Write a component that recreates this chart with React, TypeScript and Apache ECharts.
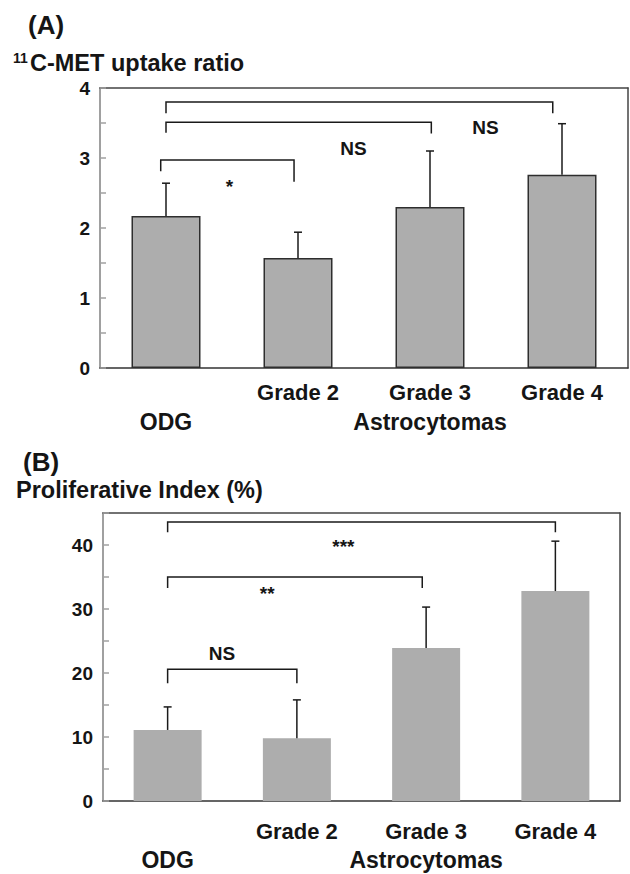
import React, { useEffect, useRef } from "react";
import * as echarts from "echarts";

const categories = ["ODG", "Grade 2", "Grade 3", "Grade 4"];
const groupLabels = ["ODG", "", "Astrocytomas", ""];

// Panel A: 11C-MET uptake ratio
const metMeans = [2.17, 1.57, 2.3, 2.76];
const metErr = [0.47, 0.37, 0.8, 0.73];
// brackets: [fromIdx, toIdx, yTop, leftLegBottom, rightLegBottom, fromOffset, toOffset]
const metBrackets = [
  [0, 3, 3.8, 3.64, 3.64, 0, -0.07],
  [0, 2, 3.51, 3.36, 3.35, 0, 0.01],
  [0, 1, 2.97, 2.81, 2.66, -0.04, -0.03],
];
const metSigTexts = ["NS", "NS", "*"];
const metSigPos = [
  [2.42, 3.43],
  [1.42, 3.13],
  [0.48, 2.6],
];

// Panel B: Proliferative index
const piMeans = [11.1, 9.8, 23.9, 32.8];
const piErr = [3.6, 6.0, 6.4, 7.8];
const piBrackets = [
  [0, 3, 43.6, 42.0, 42.0, 0, 0],
  [0, 2, 35.0, 33.3, 33.3, 0, -0.03],
  [0, 1, 20.6, 18.4, 18.4, 0, 0],
];
const piSigTexts = ["***", "**", "NS"];
const piSigPos = [
  [1.36, 39.7],
  [0.77, 32.4],
  [0.42, 23.1],
];

const FONT = "'Liberation Sans', Arial, Helvetica, sans-serif";
const INK = "#151515";

function errorSeries(means: number[], errs: number[], xi: number, yi: number) {
  return {
    type: "custom",
    xAxisIndex: xi,
    yAxisIndex: yi,
    z: 5,
    data: means.map((m, i) => [i, m, errs[i]]),
    renderItem: (params: any, api: any) => {
      const i = api.value(0);
      const m = api.value(1);
      const e = api.value(2);
      const b = api.coord([i, m]);
      const t = api.coord([i, m + e]);
      const st = { stroke: "#1a1a1a", lineWidth: 1.5 };
      return {
        type: "group",
        children: [
          { type: "line", shape: { x1: b[0], y1: b[1], x2: t[0], y2: t[1] }, style: st },
          { type: "line", shape: { x1: t[0] - 4, y1: t[1], x2: t[0] + 4, y2: t[1] }, style: st },
        ],
      };
    },
  };
}

function bracketSeries(brackets: number[][], xi: number, yi: number) {
  return {
    type: "custom",
    xAxisIndex: xi,
    yAxisIndex: yi,
    z: 5,
    data: brackets.map((b) => b),
    renderItem: (params: any, api: any) => {
      const from = api.value(0);
      const to = api.value(1);
      const y = api.value(2);
      const l = api.value(3);
      const r = api.value(4);
      const fo = api.value(5);
      const to2 = api.value(6);
      const bw = api.size([1, 0])[0];
      const x1 = api.coord([from, y])[0] + fo * bw;
      const x2 = api.coord([to, y])[0] + to2 * bw;
      const yt = api.coord([from, y])[1];
      const yl = api.coord([from, l])[1];
      const yr = api.coord([to, r])[1];
      return {
        type: "polyline",
        shape: { points: [[x1, yl], [x1, yt], [x2, yt], [x2, yr]] },
        style: { stroke: "#1a1a1a", lineWidth: 1.5, fill: null },
      };
    },
  };
}

function sigSeries(pos: number[][], texts: string[], xi: number, yi: number) {
  return {
    type: "custom",
    xAxisIndex: xi,
    yAxisIndex: yi,
    z: 6,
    data: pos.map((p) => [p[0], p[1]]),
    renderItem: (params: any, api: any) => {
      const fx = api.value(0);
      const y = api.value(1);
      const bw = api.size([1, 0])[0];
      const base = api.coord([0, y]);
      const txt = texts[params.dataIndex];
      const isStar = txt.indexOf("*") >= 0;
      return {
        type: "text",
        x: base[0] + fx * bw,
        y: base[1],
        style: {
          text: txt,
          align: "center",
          verticalAlign: "middle",
          fontFamily: FONT,
          fontWeight: "bold",
          fontSize: isStar ? 19 : 19,
          fill: INK,
        },
      };
    },
  };
}

function panelAxes(grid: number, labelMargin: number, groupOffset: number) {
  return [
    {
      gridIndex: grid,
      type: "category",
      data: categories,
      position: "bottom",
      axisLine: { show: true, lineStyle: { color: "#333", width: 1.5 } },
      axisTick: { show: false },
      axisLabel: {
        interval: 0,
        margin: labelMargin,
        fontSize: 22,
        fontWeight: "bold",
        fontFamily: FONT,
        color: INK,
        formatter: (v: string, i: number) => (i === 0 ? "" : v),
      },
    },
    {
      gridIndex: grid,
      type: "category",
      data: groupLabels,
      position: "bottom",
      offset: groupOffset,
      axisLine: { show: false },
      axisTick: { show: false },
      axisLabel: {
        interval: 0,
        margin: labelMargin,
        fontSize: 23,
        fontWeight: "bold",
        fontFamily: FONT,
        color: INK,
      },
    },
    {
      gridIndex: grid,
      type: "category",
      data: categories,
      position: "top",
      axisLine: { show: true, lineStyle: { color: "#444", width: 1.5 } },
      axisTick: { show: false },
      axisLabel: { show: false },
    },
  ];
}

function valueAxes(grid: number, max: number, interval: number, labelEvery: number) {
  return [
    {
      gridIndex: grid,
      type: "value",
      min: 0,
      max,
      interval,
      position: "left",
      axisLine: { show: true, lineStyle: { color: "#a0a0a0", width: 2 } },
      axisTick: { show: true, inside: true, length: 6, lineStyle: { color: "#a0a0a0", width: 1.5 } },
      splitLine: { show: false },
      axisLabel: {
        margin: 10,
        fontSize: 19,
        fontWeight: "bold",
        fontFamily: FONT,
        color: INK,
        formatter: (v: number) => (Math.abs(v / labelEvery - Math.round(v / labelEvery)) < 1e-6 ? String(v) : ""),
      },
    },
    {
      gridIndex: grid,
      type: "value",
      min: 0,
      max,
      interval,
      position: "right",
      axisLine: { show: true, lineStyle: { color: "#444", width: 1.5 } },
      axisTick: { show: false },
      axisLabel: { show: false },
      splitLine: { show: false },
    },
  ];
}

export default function App() {
  const ref = useRef<HTMLDivElement>(null);
  useEffect(() => {
    document.body.style.margin = "0";
    if (!ref.current) return;
    const chart = echarts.init(ref.current, null, { renderer: "svg" });
    const option: any = {
      animation: false,
      backgroundColor: "#ffffff",
      grid: [
        { left: 100, top: 88, width: 528, height: 280 },
        { left: 103, top: 513, width: 517, height: 288 },
      ],
      xAxis: [...panelAxes(0, 13, 29), ...panelAxes(1, 19, 28)],
      yAxis: [...valueAxes(0, 4, 0.5, 1), ...valueAxes(1, 45, 5, 10)],
      series: [
        {
          type: "bar",
          xAxisIndex: 0,
          yAxisIndex: 0,
          data: metMeans,
          barWidth: 69,
          itemStyle: { color: "#adadad", borderColor: "#2e2e2e", borderWidth: 1.5 },
        },
        errorSeries(metMeans, metErr, 0, 0),
        bracketSeries(metBrackets, 0, 0),
        sigSeries(metSigPos, metSigTexts, 0, 0),
        {
          type: "bar",
          xAxisIndex: 3,
          yAxisIndex: 2,
          data: piMeans,
          barWidth: 68,
          itemStyle: { color: "#adadad" },
        },
        errorSeries(piMeans, piErr, 3, 2),
        bracketSeries(piBrackets, 3, 2),
        sigSeries(piSigPos, piSigTexts, 3, 2),
      ],
      graphic: [
        { type: "text", x: 28, y: 25, style: { text: "(A)", fontSize: 26, fontWeight: "bold", fontFamily: FONT, fill: INK, verticalAlign: "middle" } },
        { type: "text", x: 13, y: 58, style: { text: "11", fontSize: 14, fontWeight: "bold", fontFamily: FONT, fill: INK, verticalAlign: "middle" } },
        { type: "text", x: 30, y: 63, style: { text: "C-MET uptake ratio", fontSize: 23.5, fontWeight: "bold", fontFamily: FONT, fill: INK, verticalAlign: "middle" } },
        { type: "text", x: 23, y: 462, style: { text: "(B)", fontSize: 26, fontWeight: "bold", fontFamily: FONT, fill: INK, verticalAlign: "middle" } },
        { type: "text", x: 16, y: 490, style: { text: "Proliferative Index (%)", fontSize: 23.5, fontWeight: "bold", fontFamily: FONT, fill: INK, verticalAlign: "middle" } },
      ],
    };
    chart.setOption(option);
    return () => chart.dispose();
  }, []);
  return <div ref={ref} style={{ width: 630, height: 874 }} />;
}
